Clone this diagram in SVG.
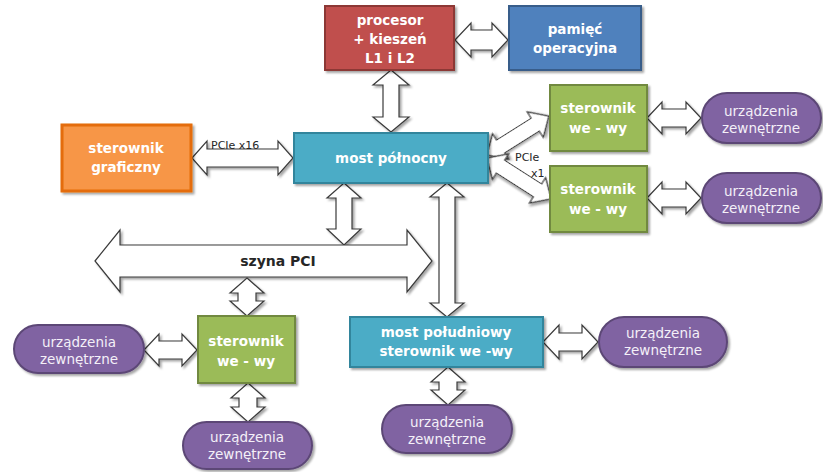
<svg xmlns="http://www.w3.org/2000/svg" width="823" height="472" viewBox="0 0 823 472">
  <defs>
    <filter id="shadow" x="-20%" y="-20%" width="140%" height="140%">
      <feDropShadow dx="2" dy="2" stdDeviation="1.2" flood-color="#000" flood-opacity="0.35"/>
    </filter>
    <style>
      .arrow { fill: #ffffff; stroke: #3a3a3a; stroke-width: 1.2; stroke-linejoin: miter; filter: url(#shadow); }
      .box { stroke-width: 2; filter: url(#shadow); }
      .red { fill: #C0504D; stroke: #8C3836; }
      .blue { fill: #4F81BD; stroke: #385D8A; }
      .orange { fill: #F79646; stroke: #E46C0A; stroke-width: 3; }
      .teal { fill: #4BACC6; stroke: #31859C; }
      .green { fill: #9BBB59; stroke: #71893F; }
      .purple { fill: #8064A2; stroke: #5C4776; }
      .lbl { font-family: "DejaVu Sans", Verdana, sans-serif; font-weight: bold; font-size: 13.5px; fill: #ffffff; text-anchor: middle; }
      .dev { font-family: "DejaVu Sans", Verdana, sans-serif; font-size: 13.5px; fill: #f4f0f8; text-anchor: middle; }
      .bus { font-family: "DejaVu Sans", Verdana, sans-serif; font-weight: bold; font-size: 14px; fill: #262626; text-anchor: middle; }
      .small { font-family: "DejaVu Sans", Verdana, sans-serif; font-size: 11px; fill: #262626; }
    </style>
  </defs>
  <rect width="823" height="472" fill="#ffffff"/>

  <!-- connectors: white block arrows -->
  <g id="connectors">
    <!-- processor <-> memory -->
    <polygon class="arrow" points="455,40 471,23 471,30 492,30 492,23 508,40 492,57 492,50 471,50 471,57"/>
    <!-- processor <-> north bridge -->
    <polygon class="arrow" points="391,70 409,85 399,85 399,117 409,117 391,132 373,117 383,117 383,85 373,85"/>
    <!-- graphics <-> north bridge (PCIe x16) -->
    <polygon class="arrow" points="192,158 207,141 207,149 278,149 278,141 293,158 278,175 278,167 207,167 207,175"/>
    <!-- north bridge <-> upper I/O controller -->
    <g transform="translate(487,155) rotate(-32.2)">
      <polygon class="arrow" points="0,0 16,-15 16,-7.5 57,-7.5 57,-15 73,0 57,15 57,7.5 16,7.5 16,15"/>
    </g>
    <!-- north bridge <-> lower I/O controller -->
    <g transform="translate(487,158) rotate(32.6)">
      <polygon class="arrow" points="0,0 16,-15 16,-7.5 60,-7.5 60,-15 76,0 60,15 60,7.5 16,7.5 16,15"/>
    </g>
    <!-- I/O controllers <-> external devices (right) -->
    <polygon class="arrow" points="647,118 662,102 662,109 686,109 686,102 701,118 686,134 686,127 662,127 662,134"/>
    <polygon class="arrow" points="647,198 662,182 662,189 686,189 686,182 701,198 686,214 686,207 662,207 662,214"/>
    <!-- north bridge <-> PCI bus -->
    <polygon class="arrow" points="344,183 361,198 352,198 352,229 361,229 344,245 327,229 336,229 336,198 327,198"/>
    <!-- north bridge <-> south bridge -->
    <polygon class="arrow" points="447,183 464,197 455,197 455,303 464,303 447,317 430,303 439,303 439,197 430,197"/>
    <!-- PCI bus -->
    <polygon class="arrow" points="95,261 120,230 120,245 407,245 407,230 432,261 407,292 407,277 120,277 120,292"/>
    <!-- PCI bus <-> lower-left I/O controller -->
    <polygon class="arrow" points="247,278 264,293 256,293 256,301 264,301 247,316 230,301 238,301 238,293 230,293"/>
    <!-- lower-left devices <-> I/O controller -->
    <polygon class="arrow" points="144,350 159,334 159,341 182,341 182,334 197,350 182,366 182,359 159,359 159,366"/>
    <!-- I/O controller <-> bottom devices -->
    <polygon class="arrow" points="248,383 265,398 257,398 257,407 265,407 248,422 231,407 239,407 239,398 231,398"/>
    <!-- south bridge <-> right devices -->
    <polygon class="arrow" points="543,342 559,325 559,333 582,333 582,325 598,342 582,359 582,351 559,351 559,359"/>
    <!-- south bridge <-> bottom devices -->
    <polygon class="arrow" points="448,367 465,382 457,382 457,390 465,390 448,405 431,390 439,390 439,382 431,382"/>

    <text class="small" x="211" y="149">PCIe x16</text>
    <text class="small" x="515" y="161">PCIe</text>
    <text class="small" x="531" y="177">x1</text>
  </g>

  <!-- processor with L1/L2 cache -->
  <g id="cpu">
    <rect class="box red" x="325" y="6" width="129" height="64"/>
    <text class="lbl" x="390" y="25">procesor</text>
    <text class="lbl" x="390" y="44">+ kieszeń</text>
    <text class="lbl" x="390" y="63">L1 i L2</text>
  </g>

  <g id="memory">
    <rect class="box blue" x="509" y="6" width="132" height="64"/>
    <text class="lbl" x="575" y="34">pamięć</text>
    <text class="lbl" x="575" y="53">operacyjna</text>
  </g>

  <g id="graphics">
    <rect class="box orange" x="62" y="125" width="129" height="66"/>
    <text class="lbl" x="126" y="153">sterownik</text>
    <text class="lbl" x="126" y="172">graficzny</text>
  </g>

  <g id="northbridge">
    <rect class="box teal" x="294" y="133" width="194" height="50"/>
    <text class="lbl" x="391" y="163">most północny</text>
  </g>

  <g id="io1">
    <rect class="box green" x="550" y="85" width="97" height="66"/>
    <text class="lbl" x="598" y="113">sterownik</text>
    <text class="lbl" x="598" y="133">we - wy</text>
  </g>

  <g id="io2">
    <rect class="box green" x="550" y="166" width="97" height="66"/>
    <text class="lbl" x="598" y="194">sterownik</text>
    <text class="lbl" x="598" y="214">we - wy</text>
  </g>

  <g id="dev1">
    <rect class="box purple" x="702" y="93" width="119" height="50" rx="25"/>
    <text class="dev" x="761" y="116">urządzenia</text>
    <text class="dev" x="761" y="133">zewnętrzne</text>
  </g>

  <g id="dev2">
    <rect class="box purple" x="702" y="173" width="119" height="50" rx="25"/>
    <text class="dev" x="761" y="196">urządzenia</text>
    <text class="dev" x="761" y="213">zewnętrzne</text>
  </g>

  <g id="pci">
    <text class="bus" x="278" y="266">szyna PCI</text>
  </g>

  <g id="io3">
    <rect class="box green" x="198" y="316" width="97" height="67"/>
    <text class="lbl" x="246" y="346">sterownik</text>
    <text class="lbl" x="246" y="366">we - wy</text>
  </g>

  <g id="dev3">
    <rect class="box purple" x="14" y="325" width="130" height="48" rx="24"/>
    <text class="dev" x="79" y="347">urządzenia</text>
    <text class="dev" x="79" y="364">zewnętrzne</text>
  </g>

  <g id="dev4">
    <rect class="box purple" x="183" y="422" width="129" height="47" rx="23.5"/>
    <text class="dev" x="247" y="442">urządzenia</text>
    <text class="dev" x="247" y="459">zewnętrzne</text>
  </g>

  <g id="southbridge">
    <rect class="box teal" x="350" y="317" width="193" height="50"/>
    <text class="lbl" x="446" y="337">most południowy</text>
    <text class="lbl" x="446" y="356">sterownik we -wy</text>
  </g>

  <g id="dev5">
    <rect class="box purple" x="599" y="317" width="128" height="50" rx="25"/>
    <text class="dev" x="663" y="338">urządzenia</text>
    <text class="dev" x="663" y="355">zewnętrzne</text>
  </g>

  <g id="dev6">
    <rect class="box purple" x="382" y="405" width="130" height="48" rx="24"/>
    <text class="dev" x="447" y="427">urządzenia</text>
    <text class="dev" x="447" y="444">zewnętrzne</text>
  </g>
</svg>
